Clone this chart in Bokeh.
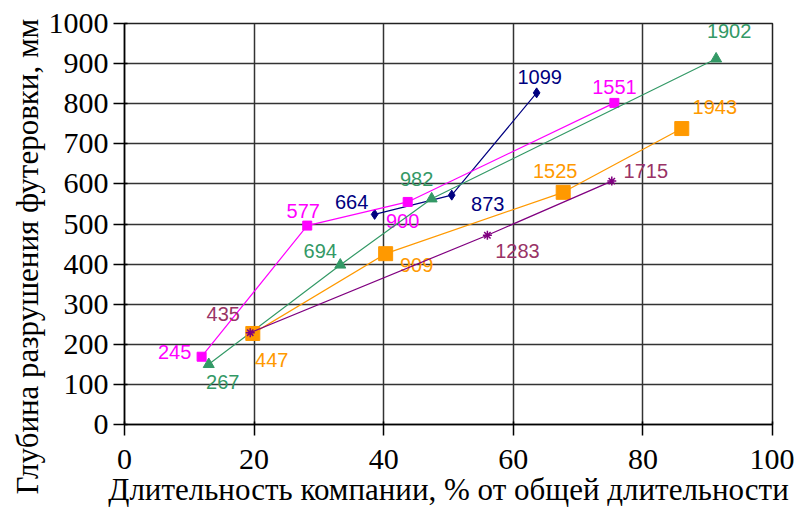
from bokeh.plotting import figure
from bokeh.models import ColumnDataSource, FixedTicker, Range1d, Title
from bokeh.core.properties import value
from bokeh.embed import file_html
from bokeh.resources import INLINE

# ---- data ----
navy_x = [38.6, 50.5, 63.6]
navy_y = [524, 572, 827]
navy_lbl = ["664", "873", "1099"]

mag_x = [11.9, 28.2, 43.7, 75.6]
mag_y = [169, 496, 555, 802]
mag_lbl = ["245", "577", "900", "1551"]

grn_x = [13.0, 33.3, 47.4, 91.3]
grn_y = [150, 398, 563, 912]
grn_lbl = ["267", "694", "982", "1902"]

org_x = [19.8, 40.3, 67.7, 86.0]
org_y = [227, 426, 579, 738]
org_lbl = ["447", "909", "1525", "1943"]

pur_x = [19.4, 56.0, 75.2]
pur_y = [229, 472, 607]
pur_lbl = ["435", "1283", "1715"]

x_ticks = [0, 20, 40, 60, 80, 100]
y_ticks = [0, 100, 200, 300, 400, 500, 600, 700, 800, 900, 1000]

x_title = "Длительность компании, % от общей длительности"
y_title = "Глубина разрушения футеровки, мм"

SERIF = "'Liberation Serif', 'Times New Roman', serif"

# ---- figure ----
p = figure(width=794, height=510, output_backend="svg", toolbar_location=None,
           x_range=Range1d(0, 100), y_range=Range1d(0, 1000),
           min_border_left=124, min_border_right=22, min_border_top=23, min_border_bottom=86)
p.background_fill_color = "white"
p.border_fill_color = "white"
p.outline_line_color = "#222222"
p.outline_line_width = 1.5

for ax in (p.xaxis[0], p.yaxis[0]):
    ax.major_label_text_font = SERIF
    ax.major_label_text_font_size = "30px"
    ax.major_label_text_color = "black"
    ax.axis_label_text_font = SERIF
    ax.axis_label_text_font_size = "31px"
    ax.axis_label_text_font_style = "normal"
    ax.axis_label_text_color = "black"
    ax.axis_line_color = "black"
    ax.axis_line_width = 1.5
    ax.major_tick_line_color = "black"
    ax.major_tick_line_width = 1.5
    ax.major_tick_in = 3
    ax.major_tick_out = 11
    ax.minor_tick_line_color = None

p.xaxis.ticker = FixedTicker(ticks=x_ticks)
p.yaxis.ticker = FixedTicker(ticks=y_ticks)
p.xaxis.axis_label = x_title
p.xaxis.major_label_standoff = 14
p.yaxis.major_label_standoff = 5
p.xaxis.axis_label_standoff = 0

p.xgrid.ticker = FixedTicker(ticks=x_ticks)
p.ygrid.ticker = FixedTicker(ticks=y_ticks)
p.grid.grid_line_color = "#333333"
p.grid.grid_line_width = 1.5

# y-axis title as a side title (allows shifting along the axis)
p.add_layout(Title(text=y_title, align="left", offset=-70, standoff=2,
                   text_font=SERIF, text_font_size="31px", text_font_style="normal",
                   text_color="black"), "left")

def series(xs, ys, labels, line_color, lbl_color, marker, size, offs):
    src = ColumnDataSource(dict(x=xs, y=ys, t=labels,
                                dx=[o[0] for o in offs], dy=[o[1] for o in offs]))
    p.line("x", "y", source=src, line_color=line_color, line_width=1.2)
    if marker == "asterisk":
        p.scatter("x", "y", source=src, marker="asterisk", size=size,
                  line_color=line_color, line_width=1.5)
    else:
        p.scatter("x", "y", source=src, marker=marker, size=size,
                  fill_color=line_color, line_color=line_color)
    p.text("x", "y", text="t", source=src, x_offset="dx", y_offset="dy",
           text_font=value("Liberation Sans"), text_font_size="20px",
           text_color=lbl_color, text_align="center", text_baseline="middle")

series(navy_x, navy_y, navy_lbl, "#000080", "#000080", "diamond", 10,
       [(-23, -12), (36, 9), (3, -16)])
series(mag_x, mag_y, mag_lbl, "#FF00FF", "#FF00FF", "square", 9,
       [(-27, -5), (-4, -15), (-5, 19), (0, -16)])
series(grn_x, grn_y, grn_lbl, "#339966", "#339966", "triangle", 11,
       [(14, 18), (-20, -14), (-15, -20), (13, -28)])
series(org_x, org_y, org_lbl, "#FF9900", "#FF9900", "square", 14,
       [(19, 27), (31, 11), (-8, -21), (33, -22)])
series(pur_x, pur_y, pur_lbl, "#800080", "#993366", "asterisk", 9,
       [(-27, -19), (30, 16), (34, -10)])

open("out.html", "w").write(file_html(p, INLINE))
